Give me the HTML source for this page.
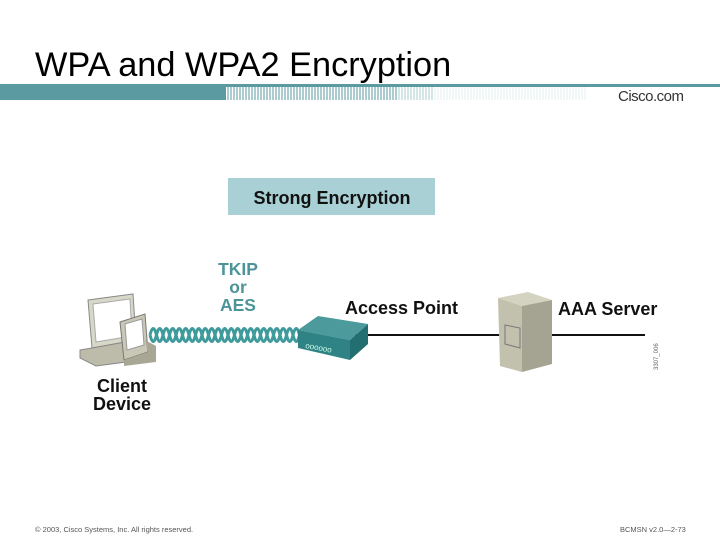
<!DOCTYPE html>
<html><head><meta charset="utf-8"><style>
body{margin:0;width:720px;height:540px;background:#fff;overflow:hidden;font-family:"Liberation Sans",Arial,sans-serif}
</style></head><body>
<svg width="720" height="540" viewBox="0 0 720 540" xmlns="http://www.w3.org/2000/svg" font-family="Liberation Sans, Arial, sans-serif">
<text x="35" y="76" font-size="34.3" fill="#000">WPA and WPA2 Encryption</text>
<rect x="0" y="84" width="720" height="3" fill="#5a9aa0"/>
<rect x="0" y="84" width="226" height="16" fill="#5a9aa0"/>
<g stroke="#5a9aa0" stroke-width="1">
<path d="M228 87v13M231 87v13M234 87v13M237 87v13M240 87v13M243 87v13M246 87v13M249 87v13M252 87v13M255 87v13M258 87v13M261 87v13M264 87v13M267 87v13M270 87v13M273 87v13M276 87v13M279 87v13M282 87v13M285 87v13M288 87v13M291 87v13M294 87v13M297 87v13M300 87v13M303 87v13M306 87v13M309 87v13M312 87v13M315 87v13M318 87v13M321 87v13M324 87v13M327 87v13M330 87v13M333 87v13M336 87v13M339 87v13M342 87v13M345 87v13M348 87v13M351 87v13M354 87v13M357 87v13M360 87v13M363 87v13M366 87v13M369 87v13M372 87v13M375 87v13M378 87v13M381 87v13M384 87v13M387 87v13M390 87v13M393 87v13M396 87v13"/>
<path d="M399 87v13M402 87v13M405 87v13M408 87v13M411 87v13M414 87v13M417 87v13M420 87v13M423 87v13M426 87v13M429 87v13M432 87v13" opacity="0.5"/>
<path d="M435 87v13M438 87v13M441 87v13M444 87v13M447 87v13M450 87v13M453 87v13M456 87v13M459 87v13M462 87v13M465 87v13M468 87v13M471 87v13M474 87v13M477 87v13M480 87v13M483 87v13M486 87v13M489 87v13M492 87v13M495 87v13M498 87v13M501 87v13M504 87v13M507 87v13M510 87v13M513 87v13M516 87v13M519 87v13M522 87v13M525 87v13M528 87v13M531 87v13M534 87v13M537 87v13M540 87v13M543 87v13M546 87v13M549 87v13M552 87v13M555 87v13M558 87v13M561 87v13M564 87v13M567 87v13M570 87v13M573 87v13M576 87v13M579 87v13M582 87v13M585 87v13" opacity="0.15"/>
</g>
<text x="618" y="101" font-size="15" fill="#333" letter-spacing="-0.5">Cisco.com</text>

<rect x="228" y="178" width="207" height="37" fill="#a9d0d5"/>
<text x="332" y="204" font-size="18" font-weight="bold" text-anchor="middle" fill="#111">Strong Encryption</text>

<g font-size="17.5" font-weight="bold" fill="#4d9499" text-anchor="middle">
<text x="238" y="275">TKIP</text><text x="238" y="293">or</text><text x="238" y="311">AES</text></g>
<text x="345" y="314" font-size="18" font-weight="bold" fill="#111">Access Point</text>
<text x="558" y="315" font-size="18" font-weight="bold" fill="#111">AAA Server</text>
<g font-size="18" font-weight="bold" fill="#111" text-anchor="middle">
<text x="122" y="392">Client</text><text x="122" y="410">Device</text></g>

<line x1="355" y1="335" x2="645" y2="335" stroke="#111" stroke-width="2"/>

<!-- helix -->
<g fill="none" stroke="#3f9a9b" stroke-width="3">
<path d="M150 335q3.25 -13 6.5 0t6.5 0t6.5 0t6.5 0t6.5 0t6.5 0t6.5 0t6.5 0t6.5 0t6.5 0t6.5 0t6.5 0t6.5 0t6.5 0t6.5 0t6.5 0t6.5 0t6.5 0t6.5 0t6.5 0t6.5 0t6.5 0t6.5 0"/>
<path d="M150 335q3.25 13 6.5 0t6.5 0t6.5 0t6.5 0t6.5 0t6.5 0t6.5 0t6.5 0t6.5 0t6.5 0t6.5 0t6.5 0t6.5 0t6.5 0t6.5 0t6.5 0t6.5 0t6.5 0t6.5 0t6.5 0t6.5 0t6.5 0t6.5 0"/>
</g>

<!-- access point -->
<polygon points="298,330 318,316 368,324 350,340" fill="#4c9a9c"/>
<polygon points="298,330 350,340 350,360 298,348" fill="#2f8385"/>
<polygon points="350,340 368,324 368,344 350,360" fill="#236e70"/>
<text x="305" y="348" font-size="8" fill="#cfe" transform="rotate(10 305 348)">oooooo</text>

<!-- laptop -->
<polygon points="88,300 133,294 136,340 92,348" fill="#d8d8c8" stroke="#888" stroke-width="1"/>
<polygon points="93,304 130,299 132,336 96,342" fill="#fff" stroke="#aaa"/>
<polygon points="80,350 92,348 136,340 126,362 96,366 80,358" fill="#bdbcaa" stroke="#888"/>
<!-- pda -->
<polygon points="120,322 145,314 148,352 124,360" fill="#c9c8b6" stroke="#777"/>
<polygon points="125,324 142,319 144,345 127,350" fill="#fff" stroke="#999"/>
<polygon points="145,340 156,346 156,362 124,366 124,360 148,352" fill="#a8a796"/>

<!-- server -->
<polygon points="498,298 528,292 552,300 522,306" fill="#d4d3c1"/>
<polygon points="498,298 522,306 522,372 500,366" fill="#c2c1ad"/>
<polygon points="522,306 552,300 552,364 522,372" fill="#a5a492"/>
<polygon points="505,325 520,328 520,348 505,344" fill="none" stroke="#777"/>

<text x="658" y="370" font-size="6" fill="#666" transform="rotate(-90 658 370)">3307_006</text>

<text x="35" y="532" font-size="7.5" fill="#555">© 2003, Cisco Systems, Inc. All rights reserved.</text>
<text x="620" y="532" font-size="7.5" fill="#555">BCMSN v2.0—2-73</text>
</svg>
</body></html>
